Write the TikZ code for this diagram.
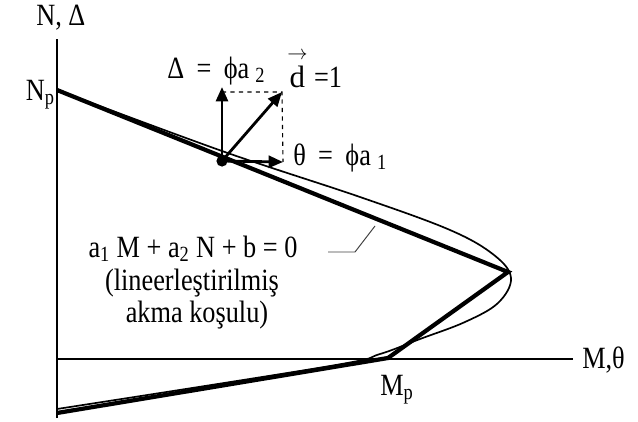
\documentclass[tikz,border=0pt]{standalone}
\usepackage{amsmath}
\usepackage{fontspec}
\setmainfont{Liberation Serif}
\usepackage{tikz}
\usetikzlibrary{arrows.meta}
\tikzset{
  axisline/.style={line width=0.9pt},
  yieldline/.style={line width=3pt,line join=miter},
  exactcurve/.style={line width=1.2pt},
  vecarrow/.style={-{Triangle[length=3.6mm,width=3mm]},line width=2pt},
  helpline/.style={dashed,line width=0.8pt},
  leaderline/.style={line width=0.7pt,draw=black!75},
  dot/.style={circle,fill=black,inner sep=0pt,minimum size=2.8mm},
  lbl/.style={inner sep=0pt,font=\fontsize{22}{25}\selectfont\addfontfeature{FakeStretch=0.85}}
}

\begin{document}
\begin{tikzpicture}[x=0.025cm,y=-0.025cm]
\useasboundingbox (0,0) rectangle (638,421);
\coordinate (o) at (57,359);
\coordinate (ytop) at (57,39);
\coordinate (ybot) at (57,418);
\coordinate (xend) at (573,359);
\coordinate (np) at (57,90);
\coordinate (tip) at (508,272);
\coordinate (knee) at (388,358);
\coordinate (nlow) at (57,413);
\draw[axisline] (ybot) -- (ytop);
\draw[axisline] (o) -- (xend);
\node[lbl,anchor=base west] (ylab) at (36,25) {N, Δ};
\node[lbl,anchor=base west] (xlab) at (582,368) {M,θ};
\node[lbl,anchor=base east] (nplab) at (55,100) {N\textsubscript{p}};
\node[lbl,anchor=base west] (mplab) at (380,395) {M\textsubscript{p}};
\draw[exactcurve] plot[smooth,tension=0.6] coordinates {(np) (222,151) (360,197) (450,230) (494,255) (511,278) (498,303) (465,322) (420,339) (380,354) (330,366) (57,409)};
\draw[yieldline] (np) -- (tip) -- (knee) -- (nlow);
\node[dot] (p) at (222,161) {};
\coordinate (dtip) at (222,87);
\coordinate (corner) at (282,92);
\coordinate (ttip) at (283,162);
\draw[helpline] (p |- corner) -- (corner) -- (ttip);
\draw[vecarrow] (p.center) -- (dtip);
\draw[vecarrow] (p.center) -- (corner);
\draw[vecarrow] (p.center) -- (ttip);
\node[lbl,anchor=base west] (dlab) at (167,78) {Δ\hspace{0.4em}=\hspace{0.4em}ϕa\hspace{0.2em}\textsubscript{2}};
\node[lbl,anchor=base west] (vlab) at (287,87) {$\overset{\scriptstyle\rightarrow}{\textrm{d}}$ =1};
\node[lbl,anchor=base west] (tlab) at (293,165) {θ\hspace{0.4em}=\hspace{0.4em}ϕa\hspace{0.2em}\textsubscript{1}};
\node[lbl,anchor=base] (eqn) at (193,257) {a\textsubscript{1} M + a\textsubscript{2} N + b = 0};
\node[lbl,anchor=base] (eqn2) at (192,290) {(lineerleştirilmiş};
\node[lbl,anchor=base] (eqn3) at (197,322) {akma koşulu)};
\coordinate (lead) at (328,252);
\coordinate (leadk) at (355,252);
\coordinate (onln) at (375,226);
\draw[leaderline] (lead) -- (leadk) -- (onln);
\end{tikzpicture}
\end{document}
